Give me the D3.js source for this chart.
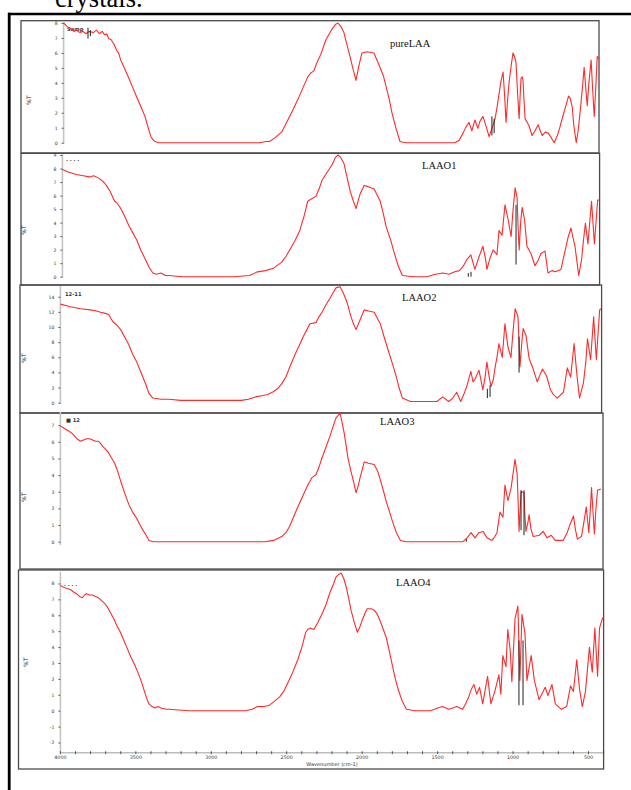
<!DOCTYPE html>
<html>
<head>
<meta charset="utf-8">
<script src="https://cdn.jsdelivr.net/npm/d3@7"></script>
<style>
  body { margin: 0; background: #fff; }
  svg { display: block; }
</style>
</head>
<body>
<svg id="chart" width="631" height="790"></svg>
<script>
// FTIR transmittance spectra, wavenumber (cm-1) vs relative %T (0 = baseline, 100 = strongest band)
const samples = ["pureLAA", "LAAO1", "LAAO2", "LAAO3", "LAAO4"];

const pureLAA = [[4000,100],[3975,97],[3950,95],[3930,93],[3913,94],[3890,92],[3870,93],[3850,91],[3830,93],[3800,92],[3780,94],[3760,91],[3740,93],[3724,90],[3710,91],[3697,87],[3680,86],[3660,82],[3643,77],[3630,75],[3616,69],[3590,62],[3562,54],[3535,46],[3508,38],[3480,30],[3453,22],[3430,12],[3413,5],[3395,2],[3385,1],[3360,0],[3291,0],[3000,0],[2726,0],[2680,0],[2640,1],[2615,1],[2580,4],[2533,9],[2500,17],[2460,27],[2425,36],[2390,46],[2358,55],[2340,58],[2317,60],[2300,66],[2270,74],[2236,86],[2200,94],[2170,99],[2155,100],[2135,97],[2115,92],[2095,82],[2074,72],[2055,62],[2034,52],[2015,64],[1994,75],[1960,76],[1913,75],[1873,63],[1850,56],[1832,47],[1810,36],[1792,25],[1765,12],[1738,1],[1700,0],[1500,0],[1369,0],[1340,2],[1314,8],[1295,13],[1274,17],[1255,10],[1234,19],[1215,12],[1200,18],[1180,22],[1160,14],[1139,5],[1120,12],[1099,20],[1085,30],[1072,41],[1058,52],[1045,59],[1035,40],[1025,17],[1015,35],[1005,50],[990,65],[978,75],[968,72],[958,67],[947,40],[937,20],[930,40],[924,54],[917,55],[911,52],[904,35],[897,20],[883,17],[870,14],[860,10],[850,6],[830,10],[809,15],[795,10],[782,6],[760,9],[741,8],[720,4],[701,0],[680,6],[665,12],[648,20],[620,32],[605,39],[594,37],[580,30],[570,15],[553,0],[540,10],[526,27],[512,45],[500,63],[490,47],[479,31],[468,50],[453,69],[443,45],[432,22],[422,45],[412,72],[400,70]];

const LAAO1 = [[4000,88],[3960,86],[3906,84],[3860,83],[3820,82],[3790,83],[3757,81],[3735,79],[3717,77],[3700,74],[3680,70],[3650,62],[3630,60],[3609,56],[3580,49],[3555,42],[3528,36],[3501,30],[3475,22],[3447,15],[3420,8],[3394,3],[3370,2],[3339,3],[3310,1],[3286,1],[3200,0],[3000,0],[2850,0],[2746,1],[2693,4],[2640,5],[2585,7],[2530,12],[2500,17],[2477,22],[2440,30],[2409,38],[2380,50],[2356,62],[2330,64],[2301,66],[2280,72],[2261,79],[2225,86],[2193,92],[2170,98],[2153,100],[2135,98],[2113,93],[2093,82],[2073,71],[2050,62],[2032,56],[2005,68],[1978,75],[1950,74],[1911,72],[1870,62],[1850,52],[1830,41],[1800,30],[1775,19],[1750,9],[1722,1],[1650,0],[1560,0],[1500,2],[1452,3],[1410,2],[1371,4],[1340,5],[1317,8],[1290,14],[1263,18],[1236,6],[1209,16],[1182,25],[1165,15],[1155,6],[1135,15],[1114,22],[1100,20],[1088,18],[1074,38],[1054,34],[1034,59],[1013,47],[993,33],[980,55],[966,73],[953,65],[946,40],[939,22],[929,45],[919,57],[903,47],[887,25],[860,19],[833,9],[810,14],[793,19],[766,21],[746,3],[720,5],[697,4],[659,6],[632,21],[612,32],[592,40],[578,32],[565,25],[540,1],[521,14],[508,30],[495,44],[478,27],[466,45],[454,62],[435,27],[424,45],[413,63],[400,63]];

const LAAO2 = [[4000,85],[3940,83],[3866,81],[3800,80],[3760,79],[3733,78],[3700,77],[3679,76],[3652,70],[3625,67],[3599,63],[3570,56],[3545,50],[3520,42],[3492,35],[3470,28],[3451,22],[3430,15],[3411,8],[3385,4],[3330,3],[3278,3],[3200,2],[3117,2],[2950,2],[2796,2],[2750,3],[2702,5],[2660,6],[2622,7],[2590,9],[2555,12],[2530,16],[2501,22],[2470,32],[2434,43],[2405,51],[2381,58],[2360,63],[2340,68],[2300,69],[2280,74],[2260,78],[2235,84],[2207,90],[2185,95],[2167,99],[2140,100],[2120,95],[2100,89],[2083,82],[2067,74],[2050,68],[2033,63],[2005,72],[1979,80],[1950,79],[1913,78],[1872,68],[1845,56],[1819,45],[1790,33],[1765,22],[1745,12],[1725,4],[1672,1],[1600,1],[1495,1],[1457,5],[1417,1],[1390,4],[1364,9],[1337,1],[1317,7],[1297,14],[1270,27],[1255,18],[1243,20],[1230,24],[1216,28],[1200,18],[1190,11],[1175,22],[1163,35],[1150,24],[1136,14],[1120,20],[1109,30],[1095,40],[1083,51],[1061,39],[1043,68],[1023,48],[1003,39],[990,60],[975,81],[956,74],[943,31],[932,50],[922,64],[903,58],[882,38],[855,29],[828,18],[810,24],[793,29],[766,23],[740,11],[720,7],[695,4],[654,9],[628,30],[606,22],[583,51],[570,32],[561,20],[547,4],[521,17],[505,35],[494,55],[473,37],[453,74],[435,37],[413,80],[405,81]];

const LAAO3 = [[4000,90],[3973,88],[3945,86],[3920,84],[3890,80],[3866,78],[3846,79],[3826,80],[3806,80],[3786,79],[3766,78],[3746,78],[3730,76],[3719,74],[3700,72],[3679,69],[3660,65],[3639,61],[3620,55],[3599,47],[3570,37],[3545,29],[3520,23],[3492,18],[3470,13],[3451,9],[3430,5],[3411,1],[3380,0],[3000,0],[2689,0],[2640,0],[2582,1],[2528,4],[2500,7],[2475,12],[2450,19],[2421,27],[2390,35],[2354,44],[2325,50],[2300,52],[2280,58],[2260,65],[2235,73],[2207,82],[2185,90],[2167,96],[2140,100],[2127,93],[2113,85],[2100,75],[2087,65],[2070,56],[2051,47],[2033,38],[2020,43],[2006,50],[1990,57],[1979,62],[1950,61],[1913,60],[1890,55],[1872,48],[1850,39],[1832,31],[1810,23],[1792,16],[1765,7],[1738,1],[1700,0],[1500,0],[1322,0],[1295,3],[1268,7],[1242,3],[1216,7],[1189,8],[1162,3],[1129,1],[1110,4],[1096,7],[1076,23],[1056,19],[1043,44],[1023,32],[1003,41],[990,52],[976,64],[962,53],[955,30],[949,8],[942,25],[935,39],[916,38],[910,20],[903,8],[890,15],[882,21],[870,10],[855,4],[815,5],[789,8],[762,3],[735,5],[709,1],[656,1],[629,7],[608,14],[587,20],[575,10],[561,2],[534,4],[518,15],[502,27],[485,7],[475,25],[467,42],[448,6],[438,25],[427,40],[405,41]];

const LAAO4 = [[4000,91],[3987,90],[3960,89],[3934,88],[3910,86],[3893,85],[3874,83],[3854,82],[3840,84],[3827,85],[3807,84],[3787,84],[3767,83],[3747,82],[3727,80],[3707,78],[3687,75],[3667,71],[3647,67],[3627,62],[3607,58],[3587,53],[3560,46],[3533,39],[3506,33],[3480,26],[3460,20],[3440,13],[3425,8],[3413,5],[3393,3],[3374,2],[3353,3],[3333,2],[3300,1],[3280,1],[3150,0],[3000,0],[2773,0],[2730,1],[2694,3],[2650,3],[2614,4],[2580,7],[2547,10],[2520,14],[2494,20],[2460,28],[2427,37],[2400,46],[2374,57],[2360,59],[2347,60],[2320,59],[2294,64],[2267,70],[2240,77],[2213,86],[2190,92],[2174,97],[2155,99],[2139,100],[2122,96],[2106,90],[2090,82],[2074,73],[2052,64],[2032,57],[2015,61],[1999,66],[1980,71],[1967,74],[1940,74],[1920,73],[1900,70],[1880,65],[1860,59],[1840,53],[1820,43],[1800,33],[1780,23],[1760,15],[1735,7],[1707,1],[1650,0],[1547,0],[1500,2],[1467,3],[1427,1],[1400,2],[1374,3],[1334,1],[1315,5],[1294,10],[1275,16],[1259,19],[1241,12],[1222,17],[1201,5],[1185,15],[1169,25],[1147,5],[1121,14],[1094,26],[1081,12],[1068,40],[1047,32],[1035,59],[1019,44],[1008,21],[987,67],[968,76],[955,22],[941,70],[921,56],[908,22],[880,40],[859,22],[828,8],[810,12],[787,17],[769,11],[742,19],[720,5],[680,1],[645,3],[619,18],[600,14],[578,37],[560,16],[541,3],[520,14],[494,46],[475,28],[458,60],[440,25],[427,60],[408,67],[400,68]];

// dark overprinted strokes on some bands: [panel, wavenumber, %T from, %T to]
const darkStrokes = [
  [0, 3836, 96, 87], [0, 3820, 94, 89], [0, 1120, 22, 6], [0, 1105, 20, 8],
  [1, 960, 59, 10], [1, 1280, 3, 0], [1, 1262, 4, 0],
  [2, 949, 57, 26], [2, 1142, 15, 5], [2, 1160, 12, 4],
  [3, 936, 40, 9], [3, 916, 40, 5], [3, 1300, 2, 0],
  [4, 961, 51, 4], [4, 934, 51, 4]
];

// y-axis tick labels of each panel (in %T units of that panel)
const yTicks1 = ["0","1","2","3","4","5","6","7","8"];
const yTicks2 = ["0","1","2","3","4","5","6","7","8","9"];
const yTicks3 = ["0","2","4","6","8","10","12","14"];
const yTicks4 = ["0","1","2","3","4","5","6","7"];
const yTicks5 = ["-2","-1","0","1","2","3","4","5","6","7","8"];

// x-axis (wavenumber) labels
const xTickLabels = [4000, 3500, 3000, 2500, 2000, 1500, 1000, 500];
const xMinorStep = 100;

const xTitle = "Wavenumber (cm-1)";
const yTitle = "%T";
const caption = "crystals.";
const runNotes = ["Samp", ". . . .", "12-11", "\u25A0 12", ". . . ."];

// ---- panel geometry ----
const panels = [
  { data: pureLAA, ticks: yTicks1, unit: 12.5,  box: [21, 20.7, 599, 153],     x0: 63.6, x1: 599,   top: 23,    base: 142.7, axisTop: 21,  axisBot: 144,   tag: [390, 47],  note: [67, 31],  ylab: [31, 100] },
  { data: LAAO1,   ticks: yTicks2, unit: 11.11, box: [21, 153.3, 599.6, 285],  x0: 62.4, x1: 599.6, top: 155,   base: 276.7, axisTop: 154, axisBot: 278,   tag: [422, 169], note: [66, 161], ylab: [26, 230] },
  { data: LAAO2,   ticks: yTicks3, unit: 6.525, box: [20, 285, 601.6, 413],    x0: 60.4, x1: 601.6, top: 286.7, base: 402.7, axisTop: 286, axisBot: 404,   tag: [402, 301], note: [65, 296], ylab: [26, 358] },
  { data: LAAO3,   ticks: yTicks4, unit: 12.94, box: [20, 413, 603, 569],      x0: 60.4, x1: 601.6, top: 413,   base: 541.7, axisTop: 412, axisBot: 545,   tag: [380, 425], note: [66, 422], ylab: [26, 497] },
  { data: LAAO4,   ticks: yTicks5, unit: 11.55, box: [18.5, 570, 603.6, 769],  x0: 60.4, x1: 603.6, top: 573,   base: 710.7, axisTop: 572, axisBot: 752.7, tag: [396, 586], note: [64, 586], ylab: [28, 662], xAxis: true }
];

const svg = d3.select("#chart");

// outer page frame
svg.append("line").attr("x1", 8).attr("x2", 631).attr("y1", 14).attr("y2", 14)
  .attr("stroke", "#000").attr("stroke-width", 2.6);
svg.append("line").attr("x1", 9.2).attr("x2", 9.2).attr("y1", 12.7).attr("y2", 790)
  .attr("stroke", "#000").attr("stroke-width", 2.8);

// caption line from the text above the figure
svg.append("text").attr("x", 55).attr("y", 7)
  .attr("font-family", "'Liberation Serif', 'Times New Roman', serif")
  .attr("font-size", 26.5).attr("fill", "#000").text(caption);

panels.forEach((p, i) => {
  const g = svg.append("g");
  const x = d3.scaleLinear().domain([4000, 400]).range([p.x0, p.x1]);
  const y = d3.scaleLinear().domain([0, 100]).range([p.base, p.top]);

  // panel frame
  const [bx0, by0, bx1, by1] = p.box;
  g.append("rect").attr("x", bx0).attr("y", by0).attr("width", bx1 - bx0).attr("height", by1 - by0)
    .attr("fill", "none").attr("stroke", "#4a4a4a").attr("stroke-width", 1.3);

  // y axis
  g.append("line").attr("x1", p.x0).attr("x2", p.x0).attr("y1", p.axisTop).attr("y2", p.axisBot)
    .attr("stroke", "#c4c4c4").attr("stroke-width", 1.6);
  const tickVals = p.ticks.map(t => +t * p.unit);
  const yAxis = d3.axisLeft(y).tickValues(tickVals)
    .tickFormat((d, k) => p.ticks[k]).tickSize(2).tickPadding(4);
  const ya = g.append("g").attr("transform", `translate(${p.x0},0)`).call(yAxis);
  ya.select(".domain").remove();
  ya.selectAll("line").attr("stroke", "#333").attr("stroke-width", 0.8);
  ya.selectAll("text").attr("font-family", "'DejaVu Sans', sans-serif")
    .attr("font-size", 4.6).attr("fill", "#333");

  // y title
  g.append("text").attr("transform", `translate(${p.ylab[0]},${p.ylab[1]}) rotate(-90)`)
    .attr("text-anchor", "middle").attr("font-family", "'DejaVu Sans', sans-serif")
    .attr("font-size", 6).attr("fill", "#222").text(yTitle);

  // run annotation in upper-left corner
  g.append("text").attr("x", p.note[0]).attr("y", p.note[1])
    .attr("font-family", "'DejaVu Sans', sans-serif").attr("font-size", 5.2)
    .attr("font-weight", "bold").attr("fill", "#333").text(runNotes[i]);

  // spectrum
  const line = d3.line().x(d => x(d[0])).y(d => y(d[1]));
  g.append("path").datum(p.data).attr("d", line)
    .attr("fill", "none").attr("stroke", "#ff2a2a").attr("stroke-width", 1.1)
    .attr("stroke-linejoin", "round");

  // dark overprinted band strokes
  g.selectAll(".dk").data(darkStrokes.filter(s => s[0] === i)).join("line")
    .attr("x1", d => x(d[1])).attr("x2", d => x(d[1]))
    .attr("y1", d => y(d[2])).attr("y2", d => y(d[3]))
    .attr("stroke", "#222").attr("stroke-width", 1);

  // sample name
  g.append("text").attr("x", p.tag[0]).attr("y", p.tag[1])
    .attr("font-family", "'Liberation Serif', 'Times New Roman', serif")
    .attr("font-size", 10.5).attr("fill", "#111").text(samples[i]);

  // x axis on the bottom panel
  if (p.xAxis) {
    const xa = g.append("g").attr("transform", `translate(0,${p.axisBot})`);
    xa.append("line").attr("x1", p.x0).attr("x2", p.x1).attr("y1", 0).attr("y2", 0)
      .attr("stroke", "#bdbdbd").attr("stroke-width", 1.6);
    const minor = d3.range(4000, 399, -xMinorStep);
    xa.selectAll(".mt").data(minor).join("line")
      .attr("x1", d => x(d)).attr("x2", d => x(d)).attr("y1", -1.5).attr("y2", 1.5)
      .attr("stroke", "#333").attr("stroke-width", 0.8);
    xa.selectAll(".xl").data(xTickLabels).join("text")
      .attr("x", d => x(d)).attr("y", 6.5).attr("text-anchor", "middle")
      .attr("font-family", "'DejaVu Sans', sans-serif").attr("font-size", 4.8)
      .attr("fill", "#333").text(d => d);
    xa.append("text").attr("x", (p.x0 + p.x1) / 2).attr("y", 13)
      .attr("text-anchor", "middle").attr("font-family", "'DejaVu Sans', sans-serif")
      .attr("font-size", 5).attr("fill", "#333").text(xTitle);
  }
});
</script>
</body>
</html>
